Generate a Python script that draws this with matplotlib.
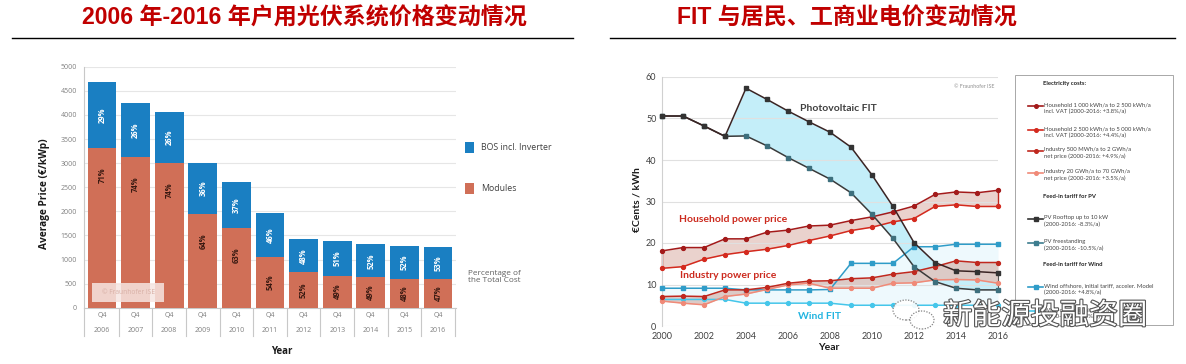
import matplotlib
matplotlib.use("Agg")
import matplotlib.pyplot as plt
import matplotlib.patheffects as pe
from matplotlib.patches import Rectangle, Ellipse
from matplotlib.lines import Line2D
import numpy as np

# ---------------- data ----------------
bar_years = ['2006', '2007', '2008', '2009', '2010', '2011', '2012', '2013', '2014', '2015', '2016']
bar_quarters = ['Q4'] * 11
modules = [3310, 3120, 3000, 1940, 1650, 1050, 735, 665, 630, 605, 590]
bos = [1380, 1135, 1065, 1070, 965, 920, 685, 725, 685, 685, 675]
bos_pct = [29, 26, 26, 36, 37, 46, 48, 51, 52, 52, 53]
mod_pct = [71, 74, 74, 64, 63, 54, 52, 49, 49, 48, 47]
left_yticks = list(range(0, 5001, 500))

line_years = list(range(2000, 2017))
hh_upper = [18.1, 18.9, 18.9, 21.0, 21.0, 22.6, 23.1, 24.1, 24.3, 25.4, 26.3, 27.5, 28.9, 31.7, 32.3, 32.1, 32.7]
hh_lower = [13.9, 14.3, 16.1, 17.2, 17.9, 18.5, 19.4, 20.6, 21.7, 23.0, 23.8, 25.1, 25.9, 28.8, 29.2, 28.8, 28.8]
ind_upper = [7.1, 7.2, 7.1, 8.7, 8.7, 9.3, 10.3, 10.8, 10.9, 11.4, 11.6, 12.5, 13.1, 14.3, 15.7, 15.3, 15.3]
ind_lower = [6.0, 5.5, 5.1, 7.1, 7.7, 8.8, 9.9, 10.3, 9.1, 9.1, 9.1, 10.3, 10.4, 11.1, 11.2, 11.1, 10.3]
pv_roof = [50.6, 50.6, 48.2, 45.7, 57.3, 54.6, 51.8, 49.2, 46.7, 43.1, 36.4, 28.8, 20.1, 15.3, 13.3, 13.1, 12.8]
pv_free = [50.6, 50.6, 48.2, 45.7, 45.8, 43.4, 40.6, 38.0, 35.4, 32.1, 26.9, 21.1, 14.3, 10.7, 9.1, 8.7, 8.7]
wind_off = [9.1, 9.1, 9.1, 9.1, 8.7, 8.7, 8.7, 8.7, 8.8, 15.1, 15.1, 15.1, 19.1, 19.1, 19.7, 19.7, 19.7]
wind_on = [6.4, 6.4, 6.4, 6.4, 5.5, 5.5, 5.5, 5.5, 5.5, 5.0, 5.0, 5.0, 5.0, 5.0, 5.0, 5.0, 5.0]
right_xticks = list(range(2000, 2017, 2))
right_yticks = list(range(0, 61, 10))

left_title = "2006 年-2016 年户用光伏系统价格变动情况"
right_title = "FIT 与居民、工商业电价变动情况"

legend_entries = [
    ("Household 1 000 kWh/a to 2 500 kWh/a\nincl. VAT (2000-2016: +3.8%/a)", '#a31a1a', 'o'),
    ("Household 2 500 kWh/a to 5 000 kWh/a\nincl. VAT (2000-2016: +4.4%/a)", '#d42a1e', 'o'),
    ("Industry 500 MWh/a to 2 GWh/a\nnet price (2000-2016: +4.9%/a)", '#c0281e', 'o'),
    ("Industry 20 GWh/a to 70 GWh/a\nnet price (2000-2016: +3.5%/a)", '#f08a78', 'o'),
    ("PV Rooftop up to 10 kW\n(2000-2016: -8.3%/a)", '#333333', 's'),
    ("PV freestanding\n(2000-2016: -10.5%/a)", '#3d7d8f', 's'),
    ("Wind offshore, initial tariff, acceler. Model\n(2000-2016: +4.8%/a)", '#2f9cc8', 's'),
    ("Wind onshore, initial tariff\n(2000-2016: -1.5%/a)", '#45c6ea', 'o'),
]

# ---------------- figure ----------------
W, H = 1186, 364
fig = plt.figure(figsize=(W / 100, H / 100), dpi=100)
fig.patch.set_facecolor('white')


def px_axes(x0, y0, x1, y1):
    return fig.add_axes([x0 / W, 1 - y1 / H, (x1 - x0) / W, (y1 - y0) / H])


def fx(x):
    return x / W


def fy(y):
    return 1 - y / H


title_font = ['Liberation Sans', 'Noto Sans CJK SC']
fig.text(fx(304), fy(18), left_title, ha='center', va='center', fontsize=16.6,
         fontweight='bold', color='#c00000', family=title_font)
fig.text(fx(847), fy(18), right_title, ha='center', va='center', fontsize=16.6,
         fontweight='bold', color='#c00000', family=title_font)
fig.add_artist(Line2D([fx(12), fx(573)], [fy(38), fy(38)], color='black', lw=1.0))
fig.add_artist(Line2D([fx(610), fx(1175)], [fy(38), fy(38)], color='black', lw=1.0))

# ---------------- left chart ----------------
lf = 'Open Sans'
axL = px_axes(84, 66.7, 456, 307.7)
x = np.arange(len(bar_years))
c_bos = '#1a7fc2'
c_mod = '#d06f57'
axL.bar(x, modules, width=0.86, color=c_mod, zorder=3)
axL.bar(x, bos, width=0.86, bottom=modules, color=c_bos, zorder=3)
axL.set_xlim(-0.536, 10.536)
axL.set_ylim(0, 5000)
axL.set_yticks(left_yticks)
axL.set_yticklabels([str(v) for v in left_yticks], fontsize=5, color='#808080', family=lf)
axL.tick_params(axis='y', length=0, pad=5)
axL.set_xticks([])
axL.grid(axis='y', color='#e6e6e6', lw=0.8, zorder=0)
for s in ['top', 'right']:
    axL.spines[s].set_visible(False)
axL.spines['left'].set_color('#c8c8c8')
axL.spines['bottom'].set_color('#c8c8c8')
axL.spines['left'].set_bounds(0, 5000)

for i in range(len(bar_years)):
    m = modules[i]
    b = bos[i]
    ym = max(m / 2, m - 560)
    axL.text(i, ym, f"{mod_pct[i]}%", rotation=90, ha='center', va='center',
             fontsize=5.5, color='#3a1a12', family=lf, fontweight='bold', zorder=4)
    axL.text(i, m + b / 2, f"{bos_pct[i]}%", rotation=90, ha='center', va='center',
             fontsize=5.5, color='white', family=lf, fontweight='bold', zorder=4)

# category table under the bars
trans = axL.get_xaxis_transform()
for i in range(len(bar_years)):
    axL.text(i, (307.7 - 316) / 241, bar_quarters[i], transform=trans, ha='center', va='center',
             fontsize=5, color='#808080', family=lf)
    axL.text(i, (307.7 - 330) / 241, bar_years[i], transform=trans, ha='center', va='center',
             fontsize=5, color='#808080', family=lf)
for b in [-0.536] + [i + 0.5 for i in range(len(bar_years))]:
    axL.plot([b, b], [0, (307.7 - 336) / 241], transform=trans, color='#c8c8c8',
             lw=0.8, clip_on=False)

# watermark box
axL.add_patch(Rectangle((fx(92), fy(302)), (164 - 92) / W, 19 / H, transform=fig.transFigure,
                        facecolor='#f6e6e2', edgecolor='none', alpha=0.85, zorder=5))
fig.text(fx(128), fy(292.5), "© Fraunhofer ISE", ha='center', va='center', fontsize=4.8,
         color='#d8b0a6', family=lf, zorder=6)

fig.text(fx(45), fy(194), "Average Price (€/kWp)", rotation=90, ha='center', va='center',
         fontsize=7.3, fontweight='bold', family=lf, color='#1a1a1a')
fig.text(fx(282), fy(352), "Year", ha='center', va='center', fontsize=7,
         fontweight='bold', family=lf, color='#1a1a1a')

# left legend
fig.add_artist(Rectangle((fx(465), fy(153)), 9 / W, 11 / H, transform=fig.transFigure,
                         facecolor=c_bos, edgecolor='none'))
fig.text(fx(481), fy(147.5), "BOS incl. Inverter", ha='left', va='center', fontsize=6.3,
         color='#404040', family=lf)
fig.add_artist(Rectangle((fx(465), fy(194)), 9 / W, 11 / H, transform=fig.transFigure,
                         facecolor=c_mod, edgecolor='none'))
fig.text(fx(481), fy(188.5), "Modules", ha='left', va='center', fontsize=6.3,
         color='#404040', family=lf)
fig.text(fx(468), fy(277), "Percentage of\nthe Total Cost", ha='left', va='center',
         fontsize=5.9, color='#606060', family=lf, linespacing=0.95)

# ---------------- right chart ----------------
rf = 'Lato'
axR = px_axes(662, 77, 998, 326)
axR.set_xlim(2000, 2016)
axR.set_ylim(0, 60)
yrs = np.array(line_years)

axR.fill_between(yrs, wind_on, wind_off, color='#eef9fd', lw=0, zorder=1)
axR.fill_between(yrs, pv_free, pv_roof, color='#c4eef9', lw=0, zorder=1)
axR.fill_between(yrs, hh_lower, hh_upper, color='#ead2cd', lw=0, zorder=1.2)
axR.fill_between(yrs, ind_lower, ind_upper, color='#dccac6', lw=0, zorder=1.2)

kw = dict(lw=1.1, markersize=2.8, clip_on=False, zorder=3)
axR.plot(yrs, wind_on, color='#45c6ea', marker='o', **kw)
axR.plot(yrs, wind_off, color='#2f9cc8', marker='s', **kw)
axR.plot(yrs, ind_lower, color='#f08a78', marker='o', **kw)
axR.plot(yrs, ind_upper, color='#c0281e', marker='o', **kw)
axR.plot(yrs, hh_lower, color='#d42a1e', marker='o', **kw)
axR.plot(yrs, hh_upper, color='#a31a1a', marker='o', **kw)
axR.plot(yrs, pv_free, color='#3a3a3a', marker='s', markerfacecolor='#3d6f7d',
         markeredgecolor='#3d6f7d', **kw)
axR.plot(yrs, pv_roof, color='#3a2424', marker='s', markerfacecolor='#333333',
         markeredgecolor='#333333', **kw)
# closing edges of the bands
axR.plot([2016, 2016], [hh_lower[-1], hh_upper[-1]], color='#c0281e', lw=1.0, zorder=2.5, clip_on=False)
axR.plot([2000, 2000], [hh_lower[0], hh_upper[0]], color='#c0281e', lw=1.0, zorder=2.5, clip_on=False)
axR.plot([2016, 2016], [pv_free[-1], pv_roof[-1]], color='#555555', lw=0.8, zorder=2.5, clip_on=False)

axR.set_xticks(right_xticks)
axR.set_xticklabels([str(v) for v in right_xticks], fontsize=6.5, color='#404040', family=rf)
axR.set_yticks(right_yticks)
axR.set_yticklabels([str(v) for v in right_yticks], fontsize=6.5, color='#404040', family=rf)
axR.tick_params(length=0, pad=4)
axR.grid(axis='y', color='#e0e0e0', lw=0.8, zorder=0)
for s in ['top', 'right', 'bottom']:
    axR.spines[s].set_visible(False)
axR.spines['left'].set_color('#d0d0d0')

axR.text(2006.55, 52.5, "Photovoltaic FIT", fontsize=7.5, fontweight='bold', color='#404040',
         family=rf, ha='left', va='center', zorder=5)
axR.text(2000.8, 25.7, "Household power price", fontsize=7.5, fontweight='bold', color='#cc2a1e',
         family=rf, ha='left', va='center', zorder=5)
axR.text(2000.85, 12.2, "Industry power price", fontsize=7.5, fontweight='bold', color='#cc2a1e',
         family=rf, ha='left', va='center', zorder=5)
axR.text(2006.5, 2.3, "Wind FIT", fontsize=7.5, fontweight='bold', color='#22b4e0',
         family=rf, ha='left', va='center', zorder=5)
axR.text(2015.85, 57.7, "© Fraunhofer ISE", fontsize=3.8, color='#909090', family=rf,
         ha='right', va='center')

fig.text(fx(637), fy(200), "€Cents / kWh", rotation=90, ha='center', va='center',
         fontsize=7.5, fontweight='bold', family=rf, color='#1a1a1a')
fig.text(fx(829), fy(348), "Year", ha='center', va='center', fontsize=7.5,
         fontweight='bold', family=rf, color='#1a1a1a')

# right legend box
fig.add_artist(Rectangle((fx(1015), fy(325)), (1173 - 1015) / W, (325 - 75) / H,
                         transform=fig.transFigure, facecolor='white', edgecolor='#a8a8a8', lw=0.7))
lfs = 4.2
fig.text(fx(1043), fy(84), "Electricity costs:", fontsize=lfs, fontweight='bold', family=rf,
         color='#222222', va='center')
fig.text(fx(1043), fy(196), "Feed-in tariff for PV", fontsize=lfs, fontweight='bold', family=rf,
         color='#222222', va='center')
fig.text(fx(1043), fy(265), "Feed-in tariff for Wind", fontsize=lfs, fontweight='bold', family=rf,
         color='#222222', va='center')
entry_y = [106, 130, 151, 173, 219, 243, 287, 311]
for (txt, col, mk), yy in zip(legend_entries, entry_y):
    fig.add_artist(Line2D([fx(1028), fx(1043)], [fy(yy), fy(yy)], color=col, lw=1.2))
    fig.add_artist(Line2D([fx(1035.5)], [fy(yy)], color=col, marker=mk, markersize=2.6, lw=0))
    fig.text(fx(1043.5), fy(yy - 3.5), txt, fontsize=lfs, family=rf, color='#444444', va='top',
             ha='left', linespacing=1.2)

# wechat-style watermark
fig.add_artist(Ellipse((fx(906), fy(310)), 26 / W, 20 / H, transform=fig.transFigure,
                       facecolor='white', edgecolor='#777777', lw=0.9, ls=(0, (1, 1.2)), alpha=0.9))
fig.add_artist(Ellipse((fx(922), fy(320)), 24 / W, 18 / H, transform=fig.transFigure,
                       facecolor='white', edgecolor='#777777', lw=0.9, ls=(0, (1, 1.2)), alpha=0.9))
fig.text(fx(1045), fy(316), "新能源投融资圈", ha='center', va='center', fontsize=21,
         family=['Noto Sans CJK SC'], fontweight='light', color='white',
         path_effects=[pe.withStroke(linewidth=1.6, foreground='#555555')], zorder=10)

fig.savefig('out.png', dpi=100)
